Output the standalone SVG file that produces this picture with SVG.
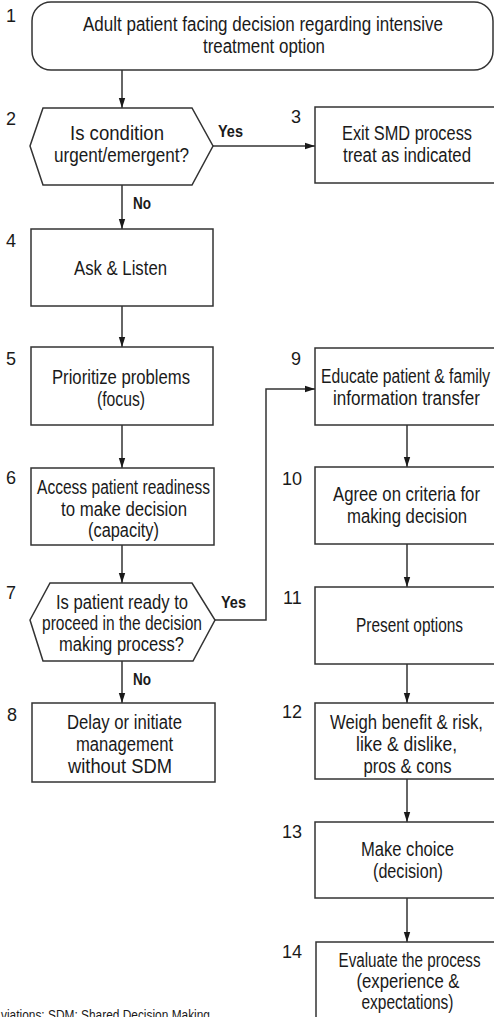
<svg xmlns="http://www.w3.org/2000/svg" width="494" height="1017" viewBox="0 0 494 1017">
  <style>
    .box { fill: #ffffff; stroke: #333333; stroke-width: 1.5; }
    .edge { fill: none; stroke: #333333; stroke-width: 1.5; }
    text { font-family: "Liberation Sans", Arial, sans-serif; fill: #1a1a1a; }
    .lbl { font-size: 19.5px; text-anchor: middle; }
    .num { font-size: 18px; }
    .yn { font-size: 16px; font-weight: bold; }
    .note { font-size: 14px; }
  </style>
  <defs>
    <marker id="arrow" viewBox="0 0 10 10" refX="10" refY="5" markerWidth="10" markerHeight="10" markerUnits="userSpaceOnUse" orient="auto">
      <path d="M0,1.8 L10,5 L0,8.2 Z" fill="#1a1a1a"/>
    </marker>
  </defs>
  <rect width="494" height="1017" fill="#ffffff"/>

  <!-- connectors -->
  <g id="connectors">
    <line class="edge" x1="122" y1="70" x2="122" y2="108" marker-end="url(#arrow)"/>
    <line class="edge" x1="213" y1="146" x2="315" y2="146" marker-end="url(#arrow)"/>
    <line class="edge" x1="122" y1="185" x2="122" y2="229" marker-end="url(#arrow)"/>
    <line class="edge" x1="122" y1="306" x2="122" y2="347" marker-end="url(#arrow)"/>
    <line class="edge" x1="122" y1="425" x2="122" y2="468" marker-end="url(#arrow)"/>
    <line class="edge" x1="122" y1="545" x2="122" y2="583" marker-end="url(#arrow)"/>
    <polyline class="edge" points="215,620 266,620 266,389 315,389" marker-end="url(#arrow)"/>
    <line class="edge" x1="122" y1="661" x2="122" y2="703" marker-end="url(#arrow)"/>
    <line class="edge" x1="407" y1="425" x2="407" y2="467" marker-end="url(#arrow)"/>
    <line class="edge" x1="407" y1="544" x2="407" y2="587" marker-end="url(#arrow)"/>
    <line class="edge" x1="407" y1="664" x2="407" y2="703" marker-end="url(#arrow)"/>
    <line class="edge" x1="407" y1="779" x2="407" y2="822" marker-end="url(#arrow)"/>
    <line class="edge" x1="407" y1="898" x2="407" y2="942" marker-end="url(#arrow)"/>
    <text class="yn" x="218" y="137" textLength="25" lengthAdjust="spacingAndGlyphs">Yes</text>
    <text class="yn" x="133" y="209" textLength="18" lengthAdjust="spacingAndGlyphs">No</text>
    <text class="yn" x="221" y="608" textLength="25" lengthAdjust="spacingAndGlyphs">Yes</text>
    <text class="yn" x="133" y="685" textLength="18" lengthAdjust="spacingAndGlyphs">No</text>
  </g>

  <g id="node1">
    <rect class="box" x="32" y="2" width="461" height="68" rx="19" ry="19"/>
    <text class="num" x="6" y="22">1</text>
    <text class="lbl" x="263" y="31" textLength="360" lengthAdjust="spacingAndGlyphs">Adult patient facing decision regarding intensive</text>
    <text class="lbl" x="264" y="53" textLength="122" lengthAdjust="spacingAndGlyphs">treatment option</text>
  </g>

  <g id="node2">
    <polygon class="box" points="43,108 192,108 213,146 192,185 43,185 30,146"/>
    <text class="num" x="6" y="125">2</text>
    <text class="lbl" x="117" y="140" textLength="94" lengthAdjust="spacingAndGlyphs">Is condition</text>
    <text class="lbl" x="121.5" y="162" textLength="135" lengthAdjust="spacingAndGlyphs">urgent/emergent?</text>
  </g>

  <g id="node3">
    <rect class="box" x="315" y="107" width="184" height="76"/>
    <text class="num" x="291" y="123">3</text>
    <text class="lbl" x="407" y="140" textLength="130" lengthAdjust="spacingAndGlyphs">Exit SMD process</text>
    <text class="lbl" x="407" y="162" textLength="128" lengthAdjust="spacingAndGlyphs">treat as indicated</text>
  </g>

  <g id="node4">
    <rect class="box" x="31" y="229" width="182" height="77"/>
    <text class="num" x="6" y="247">4</text>
    <text class="lbl" x="120.5" y="275" textLength="93" lengthAdjust="spacingAndGlyphs">Ask &amp; Listen</text>
  </g>

  <g id="node5">
    <rect class="box" x="31" y="347" width="182" height="78"/>
    <text class="num" x="6" y="365">5</text>
    <text class="lbl" x="121" y="384" textLength="138" lengthAdjust="spacingAndGlyphs">Prioritize problems</text>
    <text class="lbl" x="121" y="406" textLength="48" lengthAdjust="spacingAndGlyphs">(focus)</text>
  </g>

  <g id="node6">
    <rect class="box" x="31" y="468" width="183" height="77"/>
    <text class="num" x="6" y="484">6</text>
    <text class="lbl" x="123.5" y="494" textLength="173" lengthAdjust="spacingAndGlyphs">Access patient readiness</text>
    <text class="lbl" x="124" y="516" textLength="126" lengthAdjust="spacingAndGlyphs">to make decision</text>
    <text class="lbl" x="123.5" y="537" textLength="71" lengthAdjust="spacingAndGlyphs">(capacity)</text>
  </g>

  <g id="node7">
    <polygon class="box" points="50,583 192,583 215,620 193,661 43,661 30,620"/>
    <text class="num" x="6" y="599">7</text>
    <text class="lbl" x="122" y="609" textLength="132" lengthAdjust="spacingAndGlyphs">Is patient ready to</text>
    <text class="lbl" x="122" y="630" textLength="160" lengthAdjust="spacingAndGlyphs">proceed in the decision</text>
    <text class="lbl" x="121.5" y="651" textLength="125" lengthAdjust="spacingAndGlyphs">making process?</text>
  </g>

  <g id="node8">
    <rect class="box" x="32" y="703" width="183" height="79"/>
    <text class="num" x="7" y="721">8</text>
    <text class="lbl" x="124.5" y="729" textLength="115" lengthAdjust="spacingAndGlyphs">Delay or initiate</text>
    <text class="lbl" x="124.5" y="751" textLength="97" lengthAdjust="spacingAndGlyphs">management</text>
    <text class="lbl" x="120" y="773" textLength="104" lengthAdjust="spacingAndGlyphs">without SDM</text>
  </g>

  <g id="node9">
    <rect class="box" x="315" y="348" width="184" height="77"/>
    <text class="num" x="291" y="365">9</text>
    <text class="lbl" x="405.5" y="383" textLength="169" lengthAdjust="spacingAndGlyphs">Educate patient &amp; family</text>
    <text class="lbl" x="406.5" y="405" textLength="147" lengthAdjust="spacingAndGlyphs">information transfer</text>
  </g>

  <g id="node10">
    <rect class="box" x="315" y="467" width="184" height="77"/>
    <text class="num" x="282" y="485">10</text>
    <text class="lbl" x="406.5" y="501" textLength="147" lengthAdjust="spacingAndGlyphs">Agree on criteria for</text>
    <text class="lbl" x="407" y="523" textLength="120" lengthAdjust="spacingAndGlyphs">making decision</text>
  </g>

  <g id="node11">
    <rect class="box" x="315" y="587" width="184" height="77"/>
    <text class="num" x="283" y="604">11</text>
    <text class="lbl" x="409.5" y="632" textLength="107" lengthAdjust="spacingAndGlyphs">Present options</text>
  </g>

  <g id="node12">
    <rect class="box" x="315" y="703" width="184" height="76"/>
    <text class="num" x="282" y="718">12</text>
    <text class="lbl" x="406.5" y="729" textLength="153" lengthAdjust="spacingAndGlyphs">Weigh benefit &amp; risk,</text>
    <text class="lbl" x="406.5" y="751" textLength="101" lengthAdjust="spacingAndGlyphs">like &amp; dislike,</text>
    <text class="lbl" x="407.5" y="773" textLength="88" lengthAdjust="spacingAndGlyphs">pros &amp; cons</text>
  </g>

  <g id="node13">
    <rect class="box" x="315" y="822" width="184" height="76"/>
    <text class="num" x="282" y="838">13</text>
    <text class="lbl" x="407.5" y="856" textLength="93" lengthAdjust="spacingAndGlyphs">Make choice</text>
    <text class="lbl" x="408" y="878" textLength="70" lengthAdjust="spacingAndGlyphs">(decision)</text>
  </g>

  <g id="node14">
    <rect class="box" x="316" y="942" width="184" height="80"/>
    <text class="num" x="282" y="958">14</text>
    <text class="lbl" x="409.5" y="967" textLength="142" lengthAdjust="spacingAndGlyphs">Evaluate the process</text>
    <text class="lbl" x="408" y="988" textLength="103" lengthAdjust="spacingAndGlyphs">(experience &amp;</text>
    <text class="lbl" x="407.5" y="1009" textLength="92" lengthAdjust="spacingAndGlyphs">expectations)</text>
  </g>

  <text class="note" x="1" y="1020" textLength="209" lengthAdjust="spacingAndGlyphs">viations: SDM: Shared Decision Making</text>
</svg>
